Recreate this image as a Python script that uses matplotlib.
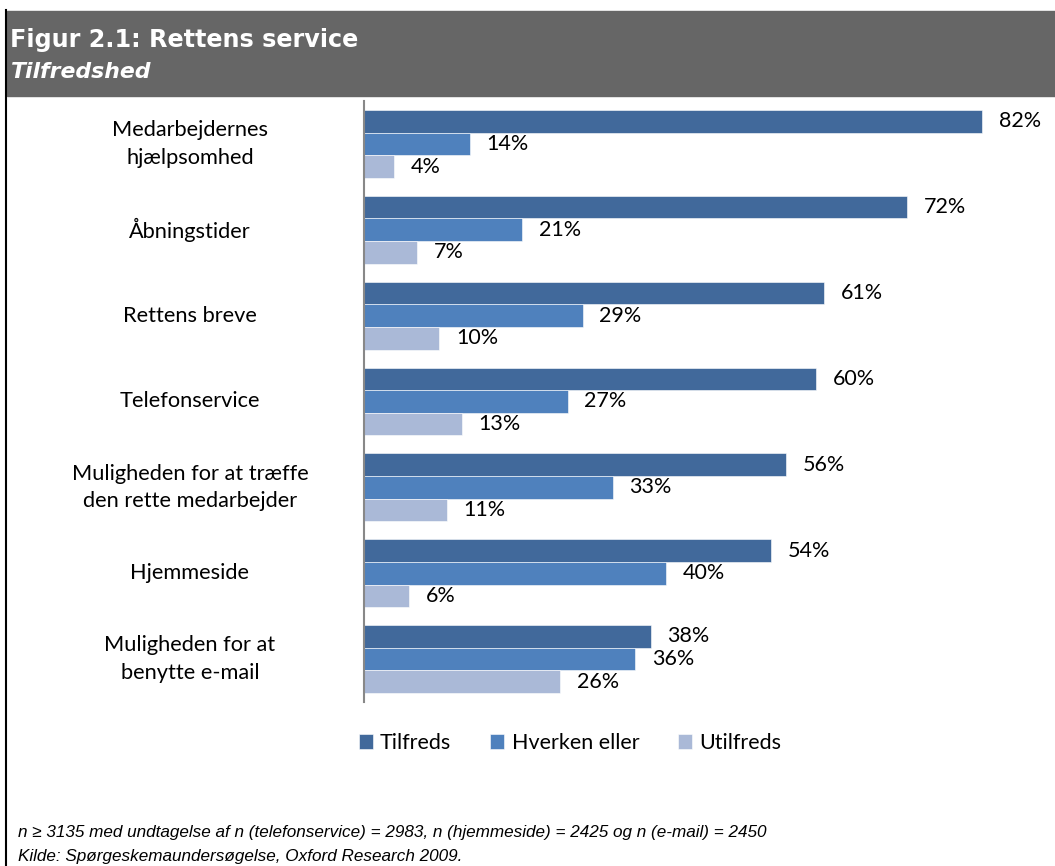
import matplotlib.pyplot as plt
import matplotlib.patches as mpatches
import numpy as np

categories = [
    "Medarbejdernes\nhjælpsomhed",
    "Åbningstider",
    "Rettens breve",
    "Telefonservice",
    "Muligheden for at træffe\nden rette medarbejder",
    "Hjemmeside",
    "Muligheden for at\nbenytte e-mail",
]
series_names = ["Tilfreds", "Hverken eller", "Utilfreds"]
tilfreds = [82, 72, 61, 60, 56, 54, 38]
hverken = [14, 21, 29, 27, 33, 40, 36]
utilfreds = [4, 7, 10, 13, 11, 6, 26]
colors = ["#41699b", "#4f81bd", "#aab9d7"]

W, H = 1055, 866
fig = plt.figure(figsize=(W / 100, H / 100), dpi=100)

def px(x, y):
    # pixel position (top-left origin) -> figure fraction
    return x / W, 1 - y / H

# header band and left frame line
fig.patches.append(mpatches.Rectangle(px(7, 96), (W - 7) / W, 85 / H,
                                      transform=fig.transFigure, color="#666666", zorder=0))
fig.add_artist(plt.Line2D([6 / W, 6 / W], [0, 1 - 10 / H], transform=fig.transFigure,
                          color="black", lw=1.5))
fig.text(*px(10, 40), "Figur 2.1: Rettens service", color="white", fontsize=17.2,
         fontweight="bold", va="center", family="DejaVu Sans")
fig.text(*px(11, 72), "Tilfredshed", color="white", fontsize=15.8,
         fontweight="bold", style="italic", va="center", family="DejaVu Sans")

# plot area
left, top, bottom = 364, 101, 702
xmax = 90
right = left + xmax * 7.54
ax = fig.add_axes([left / W, 1 - bottom / H, (right - left) / W, (bottom - top) / H])

y = np.arange(len(categories)) + 0.5
bh = 0.264
for i, (vals, name, c) in enumerate(zip([tilfreds, hverken, utilfreds], series_names, colors)):
    pos = y + (i - 1) * bh
    ax.barh(pos, vals, height=bh, color=c, label=name, edgecolor="white", linewidth=0.4)
    for p, v in zip(pos, vals):
        ax.annotate(f"{v}%", (v, p), xytext=(12, 0), textcoords="offset points",
                    va="center", ha="left", fontsize=15.5, family="Lato")

ax.set_xlim(0, xmax)
ax.set_ylim(len(categories), 0)
ax.set_xticks([])
ax.set_yticks([])
for s in ["top", "right", "bottom"]:
    ax.spines[s].set_visible(False)
ax.spines["left"].set_color("#888888")
ax.spines["left"].set_linewidth(1.5)

for yy, cat in zip(y, categories):
    fig.text(190 / W, ax.transData.transform((0, yy))[1] / H, cat, ha="center", va="center",
             fontsize=15.7, family="Lato", linespacing=1.45)

ax.legend(loc="center", bbox_to_anchor=(570 / W, 1 - 743 / H), bbox_transform=fig.transFigure,
          ncol=3, frameon=False, prop={"family": "Lato", "size": 15.5},
          handlelength=0.65, handleheight=0.75, handletextpad=0.35, columnspacing=1.8)

fig.text(*px(18, 832), "n ≥ 3135 med undtagelse af n (telefonservice) = 2983, n (hjemmeside) = 2425 og n (e-mail) = 2450",
         fontsize=12.3, style="italic", va="center", family="Liberation Sans")
fig.text(*px(18, 856), "Kilde: Spørgeskemaundersøgelse, Oxford Research 2009.",
         fontsize=12.3, style="italic", va="center", family="Liberation Sans")

fig.savefig("out.png", dpi=100)
